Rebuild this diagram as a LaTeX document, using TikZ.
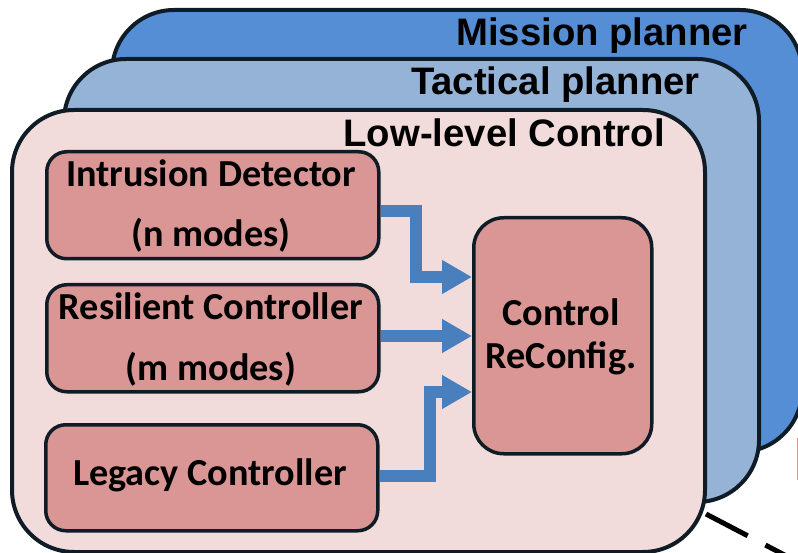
\documentclass[tikz,border=0pt]{standalone}
\usepackage{fontspec}
\setmainfont{Carlito}
\newfontfamily\titlefont{Liberation Sans}
\usetikzlibrary{arrows.meta}

\definecolor{missionblue}{HTML}{558ED5}
\definecolor{tacticalblue}{HTML}{95B3D7}
\definecolor{lowpink}{HTML}{F2DCDB}
\definecolor{boxred}{HTML}{D99694}
\definecolor{edgedark}{HTML}{0F1C26}
\definecolor{flowblue}{HTML}{4A7FBE}
\definecolor{edgered}{HTML}{E8918E}

\tikzset{
  layer/.style={draw=edgedark, line width=4pt, rounded corners=62pt,
    rectangle, inner sep=0pt, anchor=north west},
  block/.style={draw=edgedark, fill=boxred, line width=3.5pt, rounded corners=20pt,
    rectangle, inner sep=0pt, anchor=north west},
  layertitle/.style={font=\titlefont\bfseries\fontsize{38.3}{42}\selectfont,
    anchor=base east, inner sep=0pt, text=black},
  blocktext/.style={font=\bfseries\fontsize{38.2}{42}\selectfont,
    anchor=base, inner sep=0pt, text=black},
  flow/.style={draw=flowblue, line width=12pt,
    -{Triangle[length=30pt, width=32pt]}},
  link/.style={draw=black, line width=5pt, dash pattern=on 47pt off 20pt},
}

\begin{document}
\begin{tikzpicture}[x=1pt, y=-1pt]
\useasboundingbox (0,0) rectangle (798,553);
\clip (0,0) rectangle (798,553);

% stacked control layers
\node[layer, fill=missionblue, minimum width=690pt, minimum height=442pt]
  (mission) at (110,8) {};
\node[layertitle] (mission-title) at (748,46) {Mission planner};

\node[layer, fill=tacticalblue, minimum width=695pt, minimum height=443pt]
  (tactical) at (62,57) {};
\node[layertitle] (tactical-title) at (700,95) {Tactical planner};

\node[layer, fill=lowpink, minimum width=693pt, minimum height=442pt]
  (low) at (10,108) {};
\node[layertitle] (low-title) at (665,147) {Low-level Control};

% blocks of the low-level controller
\node[block, minimum width=332pt, minimum height=107pt] (intr) at (45,150) {};
\node[blocktext] (intr-name) at (211,187) {Intrusion Detector};
\node[blocktext] (intr-modes) at (211,247) {(n modes)};

\node[block, minimum width=332pt, minimum height=107pt] (resil) at (45,283) {};
\node[blocktext] (resil-name) at (211,320) {Resilient Controller};
\node[blocktext] (resil-modes) at (211,381) {(m modes)};

\node[block, minimum width=332pt, minimum height=106pt] (legacy) at (44,423) {};
\node[blocktext] (legacy-name) at (210,485) {Legacy Controller};

\node[block, rounded corners=30pt, minimum width=178pt, minimum height=236pt]
  (ctrl) at (472,216) {};
\node[blocktext] (ctrl-l1) at (561,326) {Control};
\node[blocktext] (ctrl-l2) at (561,368) {ReConfig.};

% signal flow into the reconfiguration block
\draw[flow] ([yshift=-6pt]intr.east) -- ++(35,0) |- (ctrl.west |- 0,277);
\draw[flow] (resil.east |- 0,336) -- (ctrl.west |- 0,336);
\draw[flow] (legacy.east |- 0,476) -- ++(50,0) |- (ctrl.west |- 0,392);

% link leaving the low-level layer
\coordinate (link-start) at (706,514);
\coordinate (link-end) at (840,584);
\draw[link] (link-start) -- (link-end);

% edge of a neighbouring block
\draw[edgered, line width=1.5pt] (797.3,438) -- (797.3,480);
\end{tikzpicture}
\end{document}
